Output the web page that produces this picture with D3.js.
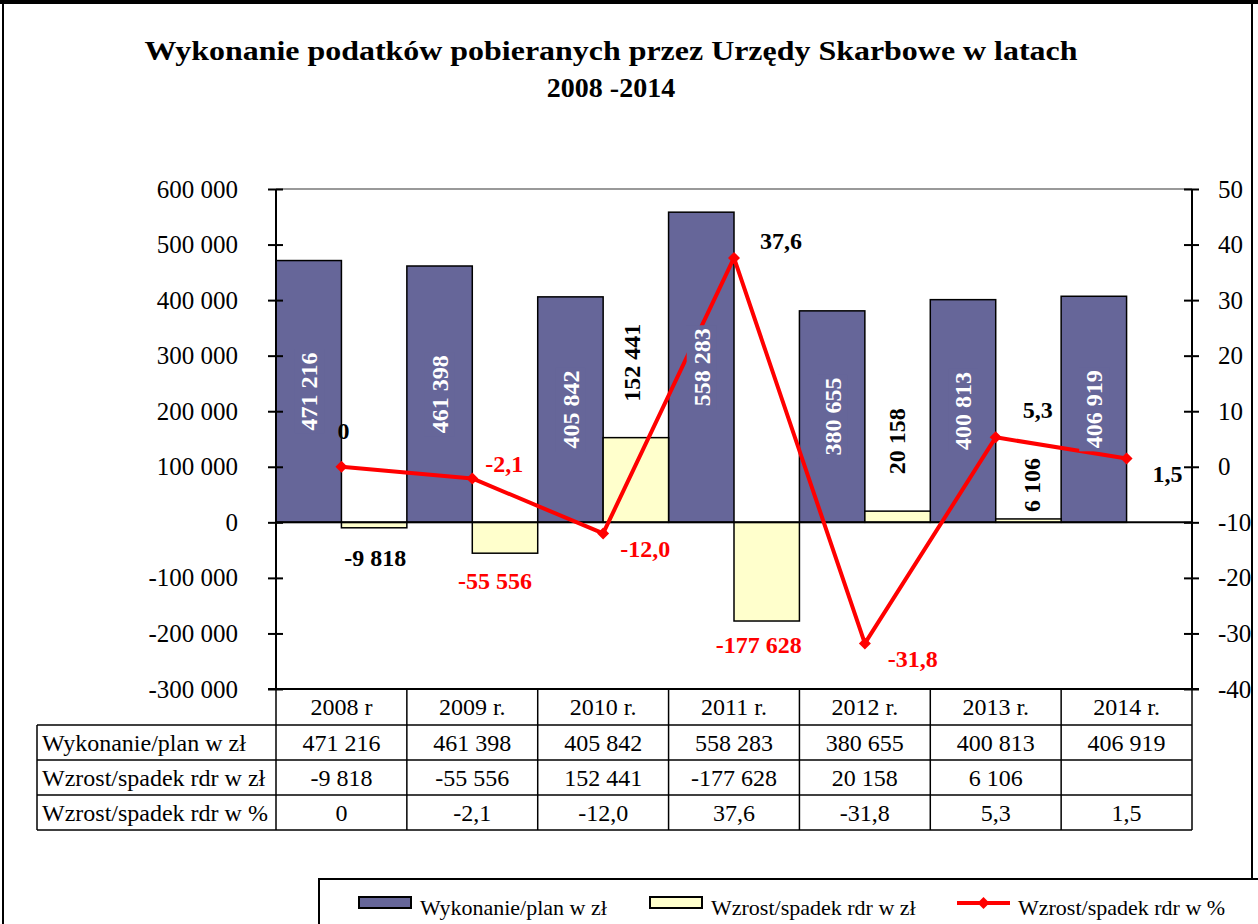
<!DOCTYPE html>
<html>
<head>
<meta charset="utf-8">
<script src="https://cdn.jsdelivr.net/npm/d3@7/dist/d3.min.js"></script>
<style>
  body { margin: 0; background: #fff; }
  svg { display: block; }
  text { font-family: "Liberation Serif", "Times New Roman", serif; }
</style>
</head>
<body>
<div id="chart"></div>
<script>
// ---- data ----
var years = ['2008 r', '2009 r.', '2010 r.', '2011 r.', '2012 r.', '2013 r.', '2014 r.'];
var wykonanie = [471216, 461398, 405842, 558283, 380655, 400813, 406919];
var zmiana = [-9818, -55556, 152441, -177628, 20158, 6106, null];
var zmianaPct = [0, -2.1, -12.0, 37.6, -31.8, 5.3, 1.5];
var leftTicks = [-300000, -200000, -100000, 0, 100000, 200000, 300000, 400000, 500000, 600000];
var rightTicks = [-40, -30, -20, -10, 0, 10, 20, 30, 40, 50];
var seriesNames = ['Wykonanie/plan w zł', 'Wzrost/spadek rdr w zł', 'Wzrost/spadek rdr w %'];

// ---- label placement (hand tuned, like the manual labels in the source) ----
var diffLabelLayout = [
  {rot: false, dx: 1, dy: 38, color: '#000'},
  {rot: false, dx: -10, dy: 36, color: '#f00'},
  {rot: true, dx: -4, dy: -36, color: '#000'},
  {rot: false, dx: -8, dy: 32, color: '#f00'},
  {rot: true, dx: -1, dy: -37, color: '#000'},
  {rot: true, dx: 3, dy: -7, color: '#000'},
  null
];
var pctLabelLayout = [
  {anchor: 'middle', dx: 2, dy: -28},
  {anchor: 'start', dx: 13, dy: -6},
  {anchor: 'start', dx: 17, dy: 24},
  {anchor: 'start', dx: 26, dy: -9},
  {anchor: 'start', dx: 23, dy: 24},
  {anchor: 'start', dx: 27, dy: -19},
  {anchor: 'start', dx: 26, dy: 24}
];

var W = 1258, H = 924;
var blue = '#666699', yellow = '#ffffcc', red = '#ff0000';
var serif = '"Liberation Serif", "Times New Roman", serif';

var pl = d3.formatLocale({decimal: ',', thousands: ' ', grouping: [3], currency: ['', ' zł'], minus: '-'});
var fmtInt = pl.format(',d');
var fmtPct = function(v){ return v === 0 ? '0' : pl.format('.1f')(v); };

var svg = d3.select('#chart').append('svg')
    .attr('width', W).attr('height', H)
    .style('font-family', serif);

var x = d3.scaleBand().domain(years).range([276, 1192]).padding(0);
var y = d3.scaleLinear().domain([-300000, 600000]).range([689, 189]);
var y2 = d3.scaleLinear().domain([-40, 50]).range([689, 189]);
var bw = x.bandwidth() / 2;

// title
svg.append('text')
    .attr('x', 611).attr('y', 60)
    .attr('text-anchor', 'middle')
    .attr('font-size', 28).attr('font-weight', 'bold')
    .attr('textLength', 933).attr('lengthAdjust', 'spacingAndGlyphs')
    .text('Wykonanie  podatków pobieranych  przez Urzędy Skarbowe w latach');
svg.append('text')
    .attr('x', 611).attr('y', 97)
    .attr('text-anchor', 'middle')
    .attr('font-size', 28).attr('font-weight', 'bold')
    .text('2008 -2014');

// plot top border
svg.append('line')
    .attr('x1', x.range()[0]).attr('x2', x.range()[1])
    .attr('y1', y(600000)).attr('y2', y(600000))
    .attr('stroke', '#999').attr('stroke-width', 2);

var data = years.map(function(d, i){
  return {year: d, wyk: wykonanie[i], zm: zmiana[i], pct: zmianaPct[i], i: i};
});

// bars
svg.append('g').selectAll('rect')
    .data(data)
  .enter().append('rect')
    .attr('x', function(d){ return x(d.year); })
    .attr('y', function(d){ return y(d.wyk); })
    .attr('width', bw)
    .attr('height', function(d){ return y(0) - y(d.wyk); })
    .attr('fill', blue).attr('stroke', '#000').attr('stroke-width', 1.5);

svg.append('g').selectAll('rect')
    .data(data.filter(function(d){ return d.zm !== null; }))
  .enter().append('rect')
    .attr('x', function(d){ return x(d.year) + bw; })
    .attr('y', function(d){ return y(Math.max(0, d.zm)); })
    .attr('width', bw)
    .attr('height', function(d){ return Math.abs(y(d.zm) - y(0)); })
    .attr('fill', yellow).attr('stroke', '#000').attr('stroke-width', 1.5);

// category axis at zero
svg.append('line')
    .attr('x1', x.range()[0]).attr('x2', x.range()[1])
    .attr('y1', y(0)).attr('y2', y(0))
    .attr('stroke', '#000').attr('stroke-width', 2);

// left axis
var gL = svg.append('g').attr('transform', 'translate(276,0)')
    .call(d3.axisLeft(y).tickValues(leftTicks).tickSize(8).tickPadding(30).tickFormat(fmtInt));
gL.attr('font-family', null).attr('font-size', null);
gL.select('.domain').remove();
gL.selectAll('.tick line').attr('x1', 7).attr('x2', -8).attr('stroke', '#000').attr('stroke-width', 2);
gL.selectAll('.tick text').style('font-size', '25px').style('font-family', serif).attr('fill', '#000');
gL.append('line').attr('y1', 189).attr('y2', 689).attr('stroke', '#000').attr('stroke-width', 2);

// right axis
var gR = svg.append('g').attr('transform', 'translate(1192,0)')
    .call(d3.axisRight(y2).tickValues(rightTicks).tickSize(8).tickPadding(18).tickFormat(pl.format('d')));
gR.attr('font-family', null).attr('font-size', null);
gR.select('.domain').remove();
gR.selectAll('.tick line').attr('x1', -8).attr('x2', 7).attr('stroke', '#000').attr('stroke-width', 2);
gR.selectAll('.tick text').style('font-size', '25px').style('font-family', serif).attr('fill', '#000');
gR.append('line').attr('y1', 189).attr('y2', 689).attr('stroke', '#000').attr('stroke-width', 2);

// bottom border of plot
svg.append('line')
    .attr('x1', 268).attr('x2', 1199)
    .attr('y1', 689).attr('y2', 689)
    .attr('stroke', '#000').attr('stroke-width', 2);

// percentage line
var cx = function(d){ return x(d.year) + bw; };
var line = d3.line()
    .x(cx)
    .y(function(d){ return y2(d.pct); });
svg.append('path')
    .datum(data)
    .attr('d', line)
    .attr('fill', 'none').attr('stroke', red).attr('stroke-width', 4)
    .attr('stroke-linejoin', 'round');

var diamond = d3.symbol().type(d3.symbolSquare).size(72);
svg.append('g').selectAll('path')
    .data(data)
  .enter().append('path')
    .attr('d', diamond)
    .attr('transform', function(d){ return 'translate(' + cx(d) + ',' + y2(d.pct) + ') rotate(45)'; })
    .attr('fill', red);

// blue bar labels, white on bar-coloured box (hides the line beneath)
data.forEach(function(d){
  var g = svg.append('g')
      .attr('transform', 'translate(' + (x(d.year) + bw / 2) + ',' + ((y(d.wyk) + y(0)) / 2) + ') rotate(-90)');
  var t = g.append('text')
      .attr('text-anchor', 'middle').attr('dy', '0.35em')
      .attr('font-size', 24).attr('font-weight', 'bold').attr('fill', '#fff')
      .text(fmtInt(d.wyk));
  var bb = t.node().getBBox();
  g.insert('rect', 'text')
      .attr('x', bb.x - 3).attr('y', bb.y - 2)
      .attr('width', bb.width + 6).attr('height', bb.height + 4)
      .attr('fill', blue);
});

// yellow bar labels
data.forEach(function(d){
  var lay = diffLabelLayout[d.i];
  if (d.zm === null || !lay) return;
  var px = x(d.year) + bw * 1.5 + lay.dx;
  var py = y(d.zm) + lay.dy;
  var t = svg.append('text')
      .attr('font-size', 24).attr('font-weight', 'bold').attr('fill', lay.color)
      .text(fmtInt(d.zm));
  if (lay.rot) {
    t.attr('transform', 'translate(' + px + ',' + py + ') rotate(-90)')
     .attr('text-anchor', 'start').attr('dy', '0.35em');
  } else {
    t.attr('x', px).attr('y', py).attr('text-anchor', 'middle');
  }
});

// percentage labels
data.forEach(function(d){
  var lay = pctLabelLayout[d.i];
  svg.append('text')
      .attr('x', cx(d) + lay.dx).attr('y', y2(d.pct) + lay.dy)
      .attr('text-anchor', lay.anchor)
      .attr('font-size', 24).attr('font-weight', 'bold')
      .attr('fill', d.pct < 0 ? red : '#000')
      .text(fmtPct(d.pct));
});

// ---- data table ----
var tTop = 689, headH = 36, rowH = 35;
var labelX0 = 37;
var tBottom = tTop + headH + rowH * 3;
var tbl = svg.append('g').attr('stroke', '#000').attr('stroke-width', 1.5);

// horizontal rules
tbl.append('line').attr('x1', x.range()[0]).attr('x2', x.range()[1]).attr('y1', tTop).attr('y2', tTop);
[0, 1, 2, 3].forEach(function(r){
  var yy = tTop + headH + r * rowH;
  tbl.append('line').attr('x1', labelX0).attr('x2', x.range()[1]).attr('y1', yy).attr('y2', yy);
});
// vertical rules
tbl.append('line').attr('x1', labelX0).attr('x2', labelX0).attr('y1', tTop + headH).attr('y2', tBottom);
years.concat(['end']).forEach(function(yr, i){
  var xx = i < years.length ? x(yr) : x.range()[1];
  tbl.append('line').attr('x1', xx).attr('x2', xx).attr('y1', tTop).attr('y2', tBottom);
});

var tText = svg.append('g').attr('font-size', 24).attr('fill', '#000');
years.forEach(function(yr){
  tText.append('text')
      .attr('x', x(yr) + x.bandwidth() / 2).attr('y', tTop + headH / 2 + 8)
      .attr('text-anchor', 'middle').text(yr);
});
var rows = [
  wykonanie.map(function(v){ return fmtInt(v); }),
  zmiana.map(function(v){ return v === null ? '' : fmtInt(v); }),
  zmianaPct.map(fmtPct)
];
rows.forEach(function(vals, r){
  var yy = tTop + headH + r * rowH + rowH / 2 + 8;
  tText.append('text').attr('x', labelX0 + 5).attr('y', yy).text(seriesNames[r]);
  vals.forEach(function(v, i){
    tText.append('text')
        .attr('x', x(years[i]) + x.bandwidth() / 2).attr('y', yy)
        .attr('text-anchor', 'middle').text(v);
  });
});

// ---- outer frame ----
svg.append('line').attr('x1', 0).attr('x2', W).attr('y1', 2).attr('y2', 2)
    .attr('stroke', '#000').attr('stroke-width', 4);
svg.append('line').attr('x1', 3).attr('x2', 3).attr('y1', 0).attr('y2', H)
    .attr('stroke', '#000').attr('stroke-width', 2);
svg.append('line').attr('x1', 1252).attr('x2', 1252).attr('y1', 0).attr('y2', 879)
    .attr('stroke', '#000').attr('stroke-width', 2);

// ---- legend ----
var lg = svg.append('g');
lg.append('rect')
    .attr('x', 319).attr('y', 879).attr('width', 1000).attr('height', 100)
    .attr('fill', '#fff').attr('stroke', '#000').attr('stroke-width', 2);
var legendItems = [
  {name: seriesNames[0], type: 'bar', fill: blue, x: 359},
  {name: seriesNames[1], type: 'bar', fill: yellow, x: 650},
  {name: seriesNames[2], type: 'line', fill: red, x: 957}
];
legendItems.forEach(function(it){
  if (it.type === 'bar') {
    lg.append('rect')
        .attr('x', it.x).attr('y', 897).attr('width', 52).attr('height', 11)
        .attr('fill', it.fill).attr('stroke', '#000').attr('stroke-width', 2);
  } else {
    lg.append('line')
        .attr('x1', it.x).attr('x2', it.x + 53).attr('y1', 903).attr('y2', 903)
        .attr('stroke', it.fill).attr('stroke-width', 4);
    lg.append('path')
        .attr('d', diamond)
        .attr('transform', 'translate(' + (it.x + 26.5) + ',903) rotate(45)')
        .attr('fill', it.fill);
  }
  lg.append('text')
      .attr('x', it.x + 61).attr('y', 915)
      .attr('font-size', 22).attr('fill', '#000')
      .text(it.name);
});
</script>
</body>
</html>
